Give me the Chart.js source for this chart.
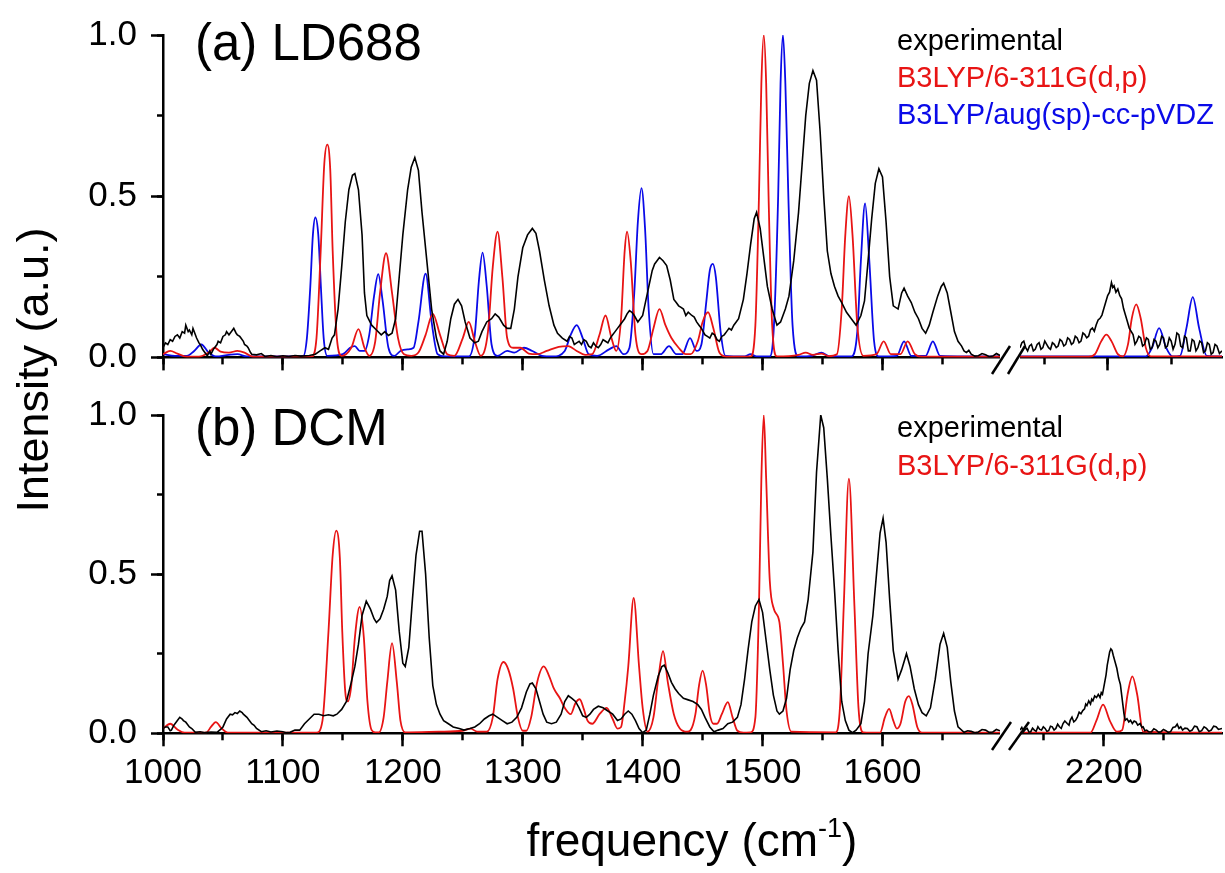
<!DOCTYPE html>
<html><head><meta charset="utf-8">
<script src="https://cdn.jsdelivr.net/npm/chart.js@4.4.1/dist/chart.umd.min.js"></script>
<style>
html,body{margin:0;padding:0;background:#fff;}
#wrap{position:relative;width:1225px;height:873px;overflow:hidden;background:#fff;}
canvas{position:absolute;}
#ov{position:absolute;left:0;top:0;pointer-events:none;}
#ov text{font-family:'Liberation Sans',Arial,Helvetica,sans-serif;}
</style></head><body>
<div id="wrap">
<canvas id="ta" width="1000" height="400" style="left:0px;top:0px"></canvas>
<canvas id="tb" width="205" height="400" style="left:1020px;top:0px"></canvas>
<canvas id="ba" width="1000" height="493" style="left:0px;top:380px"></canvas>
<canvas id="bb" width="205" height="493" style="left:1020px;top:380px"></canvas>
<svg id="ov" width="1225" height="873"></svg>
</div>
<script>
// ---------- DATA (frequency in cm^-1, normalized intensity) ----------
const seriesNamesA = ['experimental', 'B3LYP/6-311G(d,p)', 'B3LYP/aug(sp)-cc-pVDZ'];
const seriesNamesB = ['experimental', 'B3LYP/6-311G(d,p)'];
const panelTitles = ['(a) LD688', '(b) DCM'];
const yMajorTicks = [0, 0.5, 1.0];
const yTickLabels = ['0.0', '0.5', '1.0'];
const yMinorTicks = [0, 0.25, 0.5, 0.75, 1.0];
const xMajorTicksLow = [1000, 1100, 1200, 1300, 1400, 1500, 1600];
const xMinorTicksLow = [1000, 1050, 1100, 1150, 1200, 1250, 1300, 1350, 1400, 1450, 1500, 1550, 1600, 1650];
const xMajorTicksHigh = [2200];
const xMinorTicksHigh = [2150, 2200, 2250];
const xLowRange = [1000, 1698];
const xHighRangeA = [2131, 2290];
const xHighRangeB = [2130, 2299];

// (a) LD688 experimental, 1000-1700
const expA = [[1000,0.03],[1002,0.045],[1004,0.04],[1006,0.055],[1008,0.05],[1010,0.065],[1012,0.07],[1014,0.06],[1016,0.08],[1018,0.075],[1019,0.1],[1021,0.08],[1022,0.085],[1024,0.07],[1025,0.09],[1027,0.07],[1028,0.06],[1030,0.045],[1031,0.04],[1033,0.025],[1034,0.02],[1036,0.01],[1037,0.005],[1039,0.02],[1040,0.01],[1042,0.025],[1043,0.03],[1045,0.04],[1046,0.05],[1048,0.045],[1050,0.065],[1052,0.07],[1053,0.08],[1055,0.07],[1056,0.075],[1058,0.085],[1059,0.09],[1061,0.075],[1062,0.07],[1064,0.065],[1065,0.06],[1067,0.05],[1068,0.04],[1070,0.035],[1071,0.03],[1073,0.015],[1074,0.01],[1078,0.008],[1082,0.012],[1085,0.003],[1090,0.006],[1095,0.002],[1100,0.005],[1105,0.003],[1110,0.006],[1115,0.004],[1122,0.006],[1127,0.01],[1131,0.02],[1135,0.03],[1138,0.025],[1141,0.06],[1143,0.07],[1146,0.15],[1149,0.28],[1152,0.42],[1155,0.52],[1158,0.565],[1160,0.57],[1163,0.52],[1166,0.38],[1168,0.2],[1170,0.13],[1174,0.1],[1178,0.085],[1182,0.07],[1185,0.08],[1188,0.068],[1191,0.075],[1194,0.12],[1197,0.25],[1200,0.38],[1204,0.52],[1207,0.59],[1210,0.62],[1213,0.58],[1216,0.45],[1220,0.3],[1224,0.15],[1228,0.06],[1231,0.02],[1234,0.01],[1237,0.05],[1240,0.12],[1243,0.165],[1246,0.18],[1249,0.16],[1252,0.11],[1256,0.06],[1260,0.045],[1263,0.05],[1266,0.08],[1270,0.11],[1274,0.12],[1277,0.135],[1280,0.125],[1284,0.1],[1287,0.09],[1290,0.09],[1293,0.15],[1296,0.25],[1300,0.34],[1304,0.38],[1308,0.4],[1311,0.385],[1314,0.33],[1318,0.24],[1322,0.16],[1326,0.1],[1329,0.075],[1333,0.06],[1337,0.05],[1339,0.065],[1341,0.06],[1343,0.04],[1345,0.045],[1347,0.05],[1349,0.04],[1351,0.055],[1353,0.05],[1355,0.035],[1357,0.03],[1359,0.045],[1361,0.035],[1363,0.03],[1365,0.04],[1367,0.055],[1369,0.05],[1371,0.045],[1373,0.06],[1375,0.07],[1377,0.08],[1379,0.09],[1381,0.1],[1383,0.11],[1385,0.12],[1387,0.135],[1389,0.145],[1391,0.14],[1393,0.13],[1396,0.11],[1400,0.13],[1404,0.2],[1408,0.27],[1410,0.29],[1412,0.3],[1414,0.31],[1417,0.3],[1420,0.285],[1423,0.24],[1426,0.18],[1428,0.17],[1430,0.16],[1432,0.155],[1434,0.15],[1436,0.13],[1438,0.14],[1441,0.13],[1443,0.125],[1445,0.11],[1447,0.1],[1449,0.09],[1452,0.07],[1454,0.065],[1456,0.06],[1458,0.075],[1460,0.07],[1462,0.055],[1464,0.05],[1466,0.065],[1468,0.07],[1470,0.08],[1472,0.09],[1474,0.085],[1476,0.1],[1478,0.11],[1480,0.12],[1484,0.18],[1487,0.26],[1490,0.35],[1493,0.43],[1495,0.45],[1498,0.4],[1501,0.31],[1504,0.22],[1508,0.15],[1512,0.1],[1515,0.11],[1519,0.15],[1522,0.19],[1526,0.3],[1530,0.45],[1533,0.6],[1536,0.75],[1539,0.85],[1542,0.89],[1545,0.86],[1548,0.7],[1551,0.5],[1554,0.33],[1557,0.26],[1560,0.22],[1563,0.19],[1566,0.17],[1570,0.14],[1574,0.12],[1578,0.1],[1582,0.13],[1585,0.175],[1588,0.3],[1591,0.43],[1594,0.54],[1597,0.585],[1600,0.56],[1603,0.42],[1606,0.25],[1609,0.16],[1613,0.15],[1616,0.2],[1618,0.215],[1621,0.19],[1624,0.17],[1627,0.14],[1630,0.12],[1633,0.09],[1636,0.075],[1639,0.1],[1642,0.14],[1646,0.19],[1649,0.22],[1651,0.23],[1654,0.2],[1657,0.14],[1660,0.08],[1663,0.05],[1666,0.035],[1668,0.02],[1670,0.015],[1672,0.022],[1674,0.01],[1677,0.004],[1680,0.005],[1683,0.012],[1686,0.008],[1689,0.002],[1692,0.004],[1695,0.012],[1698,0.006]];
// (a) B3LYP/6-311G(d,p), 1000-1700
const b3A = [[1000,0.01],[1006,0.02],[1012,0.012],[1020,0.002],[1030,0.002],[1038,0.015],[1043,0.03],[1048,0.018],[1055,0.015],[1062,0.02],[1068,0.015],[1075,0.002],[1124,0.003],[1128,0.06],[1131.5,0.33],[1134.5,0.6],[1137,0.66],[1139.5,0.58],[1141.5,0.33],[1145,0.06],[1149,0.005],[1157,0.03],[1163,0.088],[1168,0.03],[1172,0.005],[1177,0.05],[1181,0.2],[1186,0.323],[1191,0.2],[1196,0.06],[1201,0.01],[1207,0.005],[1213,0.015],[1219,0.07],[1225,0.135],[1231,0.07],[1237,0.01],[1243,0.005],[1250,0.06],[1255,0.11],[1260,0.05],[1265,0.005],[1271,0.08],[1275,0.28],[1279,0.39],[1283,0.25],[1287,0.06],[1292,0.03],[1298,0.03],[1305,0.012],[1312,0.01],[1320,0.02],[1330,0.033],[1338,0.035],[1345,0.02],[1352,0.008],[1358,0.01],[1364,0.07],[1369,0.13],[1374,0.06],[1378,0.02],[1382,0.12],[1385,0.33],[1387,0.39],[1390,0.3],[1394,0.07],[1399,0.01],[1404,0.02],[1409,0.09],[1414,0.15],[1419,0.1],[1424,0.06],[1430,0.03],[1436,0.01],[1440,0.01],[1446,0.05],[1450,0.11],[1454.5,0.14],[1459,0.09],[1464,0.015],[1470,0.002],[1490,0.003],[1494,0.1],[1497,0.5],[1499,0.85],[1501,1.0],[1503,0.85],[1505,0.5],[1508,0.1],[1512,0.003],[1530,0.008],[1536,0.015],[1542,0.008],[1549,0.012],[1555,0.004],[1562,0.01],[1566,0.15],[1569,0.38],[1572,0.5],[1575,0.38],[1579,0.1],[1584,0.005],[1595,0.01],[1601,0.05],[1607,0.01],[1615,0.01],[1621,0.05],[1627,0.01],[1633,0.002],[1698,0.002]];
// (a) B3LYP/aug(sp)-cc-pVDZ, 1000-1700
const augA = [[1000,0.01],[1010,0.005],[1020,0.005],[1026,0.02],[1032,0.04],[1038,0.015],[1044,0.003],[1055,0.008],[1062,0.01],[1070,0.003],[1117,0.005],[1120,0.06],[1122.8,0.217],[1125,0.38],[1127,0.434],[1129.5,0.38],[1131.7,0.217],[1134,0.06],[1137,0.005],[1150,0.01],[1156,0.03],[1160,0.035],[1164,0.02],[1168,0.02],[1172,0.07],[1176,0.19],[1179.5,0.258],[1183,0.18],[1188,0.03],[1193,0.005],[1198,0.02],[1204,0.025],[1209,0.03],[1213,0.11],[1219,0.26],[1224,0.11],[1229,0.01],[1235,0.003],[1255,0.003],[1260,0.07],[1263.5,0.24],[1266.5,0.325],[1270,0.22],[1274,0.04],[1279,0.005],[1287,0.02],[1293,0.015],[1301,0.03],[1308,0.02],[1316,0.005],[1325,0.003],[1335,0.02],[1340,0.07],[1345,0.1],[1350,0.06],[1355,0.01],[1362,0.005],[1372,0.025],[1378,0.035],[1384,0.01],[1389,0.03],[1393,0.2],[1396,0.42],[1399,0.525],[1402,0.4],[1405,0.15],[1409,0.01],[1415,0.01],[1422,0.035],[1428,0.01],[1433,0.01],[1439.5,0.06],[1445,0.02],[1449,0.04],[1453,0.17],[1456,0.27],[1458.5,0.29],[1461,0.25],[1465,0.08],[1469,0.005],[1485,0.003],[1490,0.01],[1495,0.003],[1506,0.003],[1509.5,0.1],[1513,0.5],[1515,0.85],[1517,1.0],[1519,0.85],[1521.5,0.5],[1525,0.1],[1530,0.003],[1541,0.005],[1549,0.015],[1556,0.003],[1574,0.003],[1579,0.08],[1582,0.3],[1585.5,0.478],[1589,0.3],[1593,0.05],[1597,0.003],[1612,0.005],[1618,0.05],[1624,0.005],[1636,0.005],[1642,0.05],[1648,0.005],[1698,0.003]];
// (a) high-frequency window
const expAHi = [[2131,0.03],[2132.5,0.045],[2134,0.05],[2135.5,0.03],[2137,0.02],[2138.5,0.035],[2140,0.04],[2141.5,0.02],[2143,0.025],[2144.5,0.04],[2146,0.045],[2147.5,0.025],[2149,0.03],[2150.5,0.05],[2152,0.04],[2153.5,0.03],[2155,0.025],[2156.5,0.045],[2158,0.04],[2159.5,0.03],[2161,0.035],[2162.5,0.055],[2164,0.05],[2165.5,0.035],[2167,0.04],[2168.5,0.06],[2170,0.055],[2171.5,0.04],[2173,0.045],[2174.5,0.065],[2176,0.06],[2177.5,0.045],[2179,0.05],[2180.5,0.075],[2182,0.07],[2183.5,0.06],[2185,0.065],[2186.5,0.085],[2188,0.09],[2189.5,0.08],[2191,0.1],[2192.5,0.115],[2194,0.12],[2195.5,0.13],[2197,0.15],[2198.5,0.17],[2200,0.19],[2201.5,0.2],[2203,0.23],[2204,0.215],[2205,0.22],[2206.5,0.2],[2208,0.21],[2209.5,0.19],[2211,0.18],[2212.5,0.15],[2214,0.13],[2215.5,0.11],[2217,0.09],[2218.5,0.08],[2220,0.07],[2221.5,0.04],[2223,0.05],[2224.5,0.065],[2226,0.06],[2227.5,0.035],[2229,0.04],[2230.5,0.06],[2232,0.055],[2233.5,0.025],[2235,0.03],[2236.5,0.055],[2238,0.05],[2239.5,0.03],[2241,0.04],[2242.5,0.065],[2244,0.06],[2245.5,0.03],[2247,0.035],[2248.5,0.06],[2250,0.05],[2251.5,0.025],[2253,0.04],[2254.5,0.075],[2256,0.07],[2257.5,0.035],[2259,0.03],[2260.5,0.065],[2262,0.06],[2263.5,0.02],[2265,0.02],[2266.5,0.055],[2268,0.05],[2269.5,0.02],[2271,0.03],[2272.5,0.05],[2274,0.045],[2275.5,0.015],[2277,0.02],[2278.5,0.045],[2280,0.04],[2281.5,0.01],[2283,0.015],[2284.5,0.04],[2286,0.035],[2288,0.012],[2290,0.02]];
const b3AHi = [[2131,0.002],[2185,0.002],[2190,0.01],[2195,0.05],[2199,0.07],[2203,0.05],[2208,0.01],[2212,0.003],[2216,0.04],[2219,0.12],[2222.5,0.163],[2226,0.12],[2230,0.03],[2234,0.003],[2290,0.003]];
const augAHi = [[2131,0.003],[2230,0.003],[2235,0.03],[2240.5,0.09],[2246,0.03],[2251,0.003],[2257,0.005],[2262,0.09],[2267,0.185],[2272,0.09],[2278,0.005],[2290,0.003]];

// (b) DCM experimental, 1000-1700
const expB = [[1000,0.015],[1002,0.02],[1004,0.02],[1006,0.008],[1007,0.01],[1009,0.025],[1010,0.03],[1012,0.04],[1014,0.05],[1016,0.045],[1017,0.04],[1019,0.035],[1020,0.03],[1022,0.02],[1024,0.015],[1027,0.003],[1031,0.005],[1035,0.002],[1040,0.004],[1045,0.003],[1048,0.012],[1050,0.02],[1053,0.045],[1056,0.06],[1058,0.058],[1060,0.065],[1062,0.062],[1064,0.07],[1066,0.065],[1067,0.06],[1070,0.05],[1072,0.04],[1074,0.03],[1076,0.025],[1078,0.015],[1082,0.005],[1086,0.008],[1090,0.004],[1095,0.007],[1100,0.005],[1103,0.002],[1106,0.003],[1110,0.01],[1114,0.01],[1118,0.03],[1122,0.045],[1126,0.06],[1130,0.06],[1134,0.055],[1138,0.058],[1142,0.055],[1145,0.06],[1149,0.075],[1153,0.1],[1157,0.16],[1160,0.21],[1163,0.28],[1166,0.37],[1169.5,0.415],[1173,0.39],[1176,0.36],[1178,0.348],[1181,0.36],[1184,0.39],[1187,0.43],[1189,0.48],[1191,0.495],[1194,0.45],[1197,0.32],[1200,0.22],[1202,0.21],[1205,0.27],[1208,0.42],[1211,0.56],[1214,0.635],[1216,0.635],[1219,0.5],[1222,0.3],[1225,0.15],[1228,0.09],[1231,0.06],[1234,0.04],[1238,0.03],[1242,0.02],[1247,0.015],[1251,0.01],[1256,0.015],[1260,0.02],[1264,0.03],[1268,0.045],[1272,0.055],[1275,0.06],[1279,0.05],[1283,0.04],[1287,0.03],[1291,0.035],[1295,0.05],[1299,0.08],[1303,0.13],[1306,0.155],[1308,0.158],[1311,0.14],[1314,0.1],[1317,0.06],[1320,0.035],[1324,0.03],[1328,0.035],[1332,0.06],[1335,0.1],[1338,0.118],[1341,0.11],[1344,0.1],[1347,0.08],[1350,0.055],[1353,0.05],[1356,0.06],[1359,0.075],[1363,0.085],[1367,0.08],[1371,0.07],[1375,0.06],[1379,0.04],[1382,0.045],[1385,0.06],[1388,0.07],[1391,0.06],[1394,0.04],[1397,0.015],[1400,0.002],[1403,0.01],[1406,0.06],[1409,0.12],[1413,0.18],[1416,0.21],[1418,0.214],[1421,0.19],[1424,0.16],[1427,0.14],[1430,0.125],[1434,0.11],[1438,0.105],[1442,0.1],[1446,0.09],[1449,0.075],[1452,0.05],[1456,0.02],[1459.5,0.005],[1463,0.01],[1467,0.015],[1471,0.03],[1475,0.035],[1479,0.05],[1482,0.09],[1485,0.17],[1488,0.265],[1491,0.35],[1494,0.4],[1497,0.42],[1500,0.38],[1503,0.29],[1506,0.2],[1509,0.12],[1512,0.07],[1514,0.06],[1517,0.07],[1520,0.11],[1523,0.2],[1526,0.26],[1529,0.3],[1532,0.33],[1535,0.35],[1538,0.42],[1542,0.57],[1545,0.82],[1548.5,1.0],[1551,0.96],[1554,0.8],[1557,0.62],[1560,0.45],[1563,0.26],[1566,0.1],[1569,0.04],[1572,0.01],[1575,0.002],[1578,0.01],[1582,0.03],[1585,0.1],[1588,0.25],[1592,0.37],[1595,0.5],[1598,0.63],[1600.5,0.676],[1603,0.6],[1606,0.42],[1609,0.26],[1613,0.17],[1616,0.2],[1620,0.25],[1623,0.21],[1626.5,0.14],[1630,0.09],[1633,0.065],[1636.5,0.055],[1640,0.08],[1644,0.17],[1648,0.28],[1651,0.314],[1654,0.27],[1657,0.16],[1660,0.07],[1663,0.02],[1668,0.003],[1671,0.008],[1674,0.006],[1677,0.002],[1680,0.004],[1683,0.012],[1686,0.01],[1689,0.003],[1692,0.004],[1695,0.012],[1698,0.008]];
// (b) B3LYP/6-311G(d,p), 1000-1700
const b3B = [[1000,0.015],[1006,0.03],[1012,0.012],[1018,0.002],[1036,0.002],[1040,0.02],[1044,0.035],[1049,0.015],[1054,0.002],[1128,0.002],[1133,0.04],[1138,0.32],[1141.5,0.56],[1144.5,0.637],[1147.5,0.55],[1149.5,0.32],[1152,0.13],[1154,0.1],[1157,0.15],[1160,0.3],[1164,0.397],[1167.5,0.3],[1170.5,0.1],[1174,0.01],[1177,0.003],[1180,0.003],[1184,0.05],[1187,0.16],[1191,0.283],[1195,0.16],[1198,0.04],[1202,0.003],[1230,0.005],[1250,0.008],[1256.5,0.015],[1262,0.005],[1270,0.005],[1275,0.05],[1279,0.17],[1284,0.224],[1288,0.2],[1292,0.14],[1296,0.05],[1300,0.008],[1303,0.008],[1307,0.05],[1312,0.16],[1317.5,0.21],[1322,0.18],[1326,0.14],[1331,0.11],[1335,0.08],[1340,0.06],[1344,0.095],[1347.5,0.107],[1351,0.075],[1354,0.04],[1358,0.03],[1364,0.06],[1370,0.08],[1375,0.045],[1379,0.015],[1382,0.02],[1385,0.1],[1388,0.21],[1392.5,0.425],[1397,0.21],[1400,0.08],[1404,0.005],[1409,0.05],[1413,0.17],[1417,0.258],[1421,0.16],[1426,0.06],[1431,0.015],[1437,0.005],[1440,0.01],[1444,0.06],[1447,0.15],[1450,0.197],[1453,0.15],[1456,0.06],[1459,0.03],[1462,0.03],[1466,0.06],[1471,0.098],[1475,0.05],[1479,0.008],[1484,0.002],[1490,0.003],[1494,0.05],[1497,0.4],[1499,0.8],[1501,1.0],[1503,0.8],[1506,0.48],[1509.5,0.39],[1514,0.35],[1517,0.22],[1520,0.07],[1524,0.005],[1561,0.003],[1564.5,0.08],[1567.7,0.4],[1572,0.8],[1576.6,0.4],[1580,0.08],[1584,0.003],[1598,0.002],[1602,0.05],[1605.5,0.077],[1609,0.04],[1612,0.015],[1615,0.03],[1619,0.1],[1622,0.117],[1625,0.09],[1629,0.02],[1633,0.002],[1698,0.002]];
// (b) high-frequency window
const expBHi = [[2130,0.01],[2131.5,0.018],[2133,0.005],[2134.5,0.012],[2136,0.015],[2137.5,0.004],[2139,0.005],[2140.5,0.016],[2142,0.01],[2143.5,0.006],[2145,0.02],[2146.5,0.012],[2148,0.01],[2149.5,0.02],[2151,0.015],[2152.5,0.006],[2154,0.008],[2155.5,0.022],[2157,0.02],[2158.5,0.01],[2160,0.015],[2161.5,0.028],[2163,0.02],[2164.5,0.015],[2166,0.03],[2167.5,0.038],[2169.5,0.03],[2171,0.025],[2172,0.04],[2173.5,0.05],[2175,0.035],[2176.5,0.04],[2178,0.05],[2179.5,0.065],[2181,0.06],[2182.5,0.07],[2184,0.075],[2185,0.09],[2186,0.085],[2187.5,0.1],[2189,0.09],[2190,0.105],[2191,0.1],[2192.5,0.115],[2194,0.11],[2195.5,0.12],[2197,0.11],[2198,0.125],[2199,0.12],[2200.5,0.15],[2202,0.18],[2203,0.21],[2204,0.23],[2205,0.25],[2206,0.26],[2207,0.255],[2208,0.24],[2209.5,0.22],[2211,0.2],[2212.5,0.17],[2214,0.15],[2215,0.12],[2216,0.09],[2217,0.06],[2218,0.04],[2219.5,0.045],[2221,0.035],[2222.5,0.04],[2224,0.03],[2225.5,0.038],[2227,0.035],[2228.5,0.025],[2230.5,0.03],[2232,0.018],[2233,0.02],[2234.5,0.008],[2236,0.01],[2238,0.004],[2240,0.005],[2242,0.014],[2244,0.01],[2246,0.003],[2248,0.005],[2250,0.012],[2252,0.008],[2254,0.003],[2256,0.005],[2258,0.018],[2260,0.02],[2261.5,0.028],[2263,0.015],[2264.5,0.02],[2266,0.01],[2268,0.016],[2270,0.015],[2272,0.006],[2274,0.01],[2276,0.022],[2278,0.02],[2280,0.005],[2282,0.008],[2284,0.02],[2286,0.015],[2288,0.006],[2290,0.01],[2292,0.022],[2294,0.02],[2296,0.012],[2299,0.015]];
const b3BHi = [[2130,0.002],[2189,0.002],[2194,0.04],[2199.5,0.088],[2205,0.04],[2211,0.005],[2215.5,0.01],[2220,0.12],[2224,0.175],[2228,0.12],[2233,0.005],[2299,0.002]];

// ---------- STYLE ----------
const FONT = "'Liberation Sans', Arial, Helvetica, sans-serif";
const BLACK = '#000000', RED = '#e81414', BLUE = '#0a0ae8';
Chart.defaults.font.family = FONT;
Chart.defaults.color = '#000';

const toXY = arr => arr.map(p => ({x: p[0], y: p[1]}));
const toTicks = arr => arr.map(v => ({value: v}));
function ds(label, arr, color, smooth, w) {
  return {label, data: toXY(arr), borderColor: color, backgroundColor: color,
    borderWidth: w, pointRadius: 0, fill: false, tension: 0,
    cubicInterpolationMode: smooth ? 'monotone' : 'default'};
}

function makePanel(id, o) {
  const scales = {
    x: {type: 'linear', position: 'bottom', min: o.xr[0], max: o.xr[1], weight: 2,
      afterBuildTicks: s => { s.ticks = toTicks(o.xMajor); },
      ticks: {display: o.xLabels, autoSkip: false, maxRotation: 0, minRotation: 0, padding: 6,
        color: '#000', font: {size: 35}, callback: v => String(v)},
      grid: {display: true, drawOnChartArea: false, drawTicks: true, tickLength: 13, tickWidth: 2.5, tickColor: '#000'},
      border: {display: true, color: '#000', width: 2.5},
      afterFit: s => { s.height = o.H - o.bottom; }},
    xMinor: {type: 'linear', position: 'bottom', min: o.xr[0], max: o.xr[1], weight: 1,
      afterBuildTicks: s => { s.ticks = toTicks(o.xMinor); },
      ticks: {display: false},
      grid: {display: true, drawOnChartArea: false, drawTicks: true, tickLength: 7, tickWidth: 2.5, tickColor: '#000'},
      border: {display: false},
      afterFit: s => { s.height = 0; }},
    y: {type: 'linear', position: 'left', min: 0, max: 1, display: o.yOn, weight: 2,
      afterBuildTicks: s => { s.ticks = toTicks(yMajorTicks); },
      ticks: {padding: 14, color: '#000', font: {size: 35},
        callback: (v) => { const i = yMajorTicks.indexOf(v); return i >= 0 ? yTickLabels[i] : ''; }},
      grid: {display: true, drawOnChartArea: false, drawTicks: true, tickLength: 12, tickWidth: 2.5, tickColor: '#000'},
      border: {display: true, color: '#000', width: 2.5},
      afterFit: s => { s.width = o.yOn ? 163 : 0; }},
    yMinor: {type: 'linear', position: 'left', min: 0, max: 1, display: o.yOn, weight: 1,
      afterBuildTicks: s => { s.ticks = toTicks(yMinorTicks); },
      ticks: {display: false},
      grid: {display: true, drawOnChartArea: false, drawTicks: true, tickLength: 6, tickWidth: 2.5, tickColor: '#000'},
      border: {display: false},
      afterFit: s => { s.width = 0; }}
  };
  return new Chart(document.getElementById(id), {
    type: 'line',
    data: {datasets: o.datasets},
    options: {
      responsive: false, animation: false, events: [],
      layout: {padding: {top: o.top, left: 0, right: o.right, bottom: 0}},
      plugins: {legend: {display: false}, tooltip: {enabled: false}, title: {display: false}},
      scales
    }
  });
}

const LW_EXP = 1.6, LW_CALC = 1.8;
makePanel('ta', {xr: xLowRange, xMajor: xMajorTicksLow, xMinor: xMinorTicksLow, xLabels: false, yOn: true, top: 31.7, bottom: 357.4, H: 400, right: 0,
  datasets: [ds(seriesNamesA[0], expA, BLACK, false, LW_EXP), ds(seriesNamesA[1], b3A, RED, true, LW_CALC), ds(seriesNamesA[2], augA, BLUE, true, LW_CALC)]});
makePanel('tb', {xr: xHighRangeA, xMajor: xMajorTicksHigh, xMinor: xMinorTicksHigh, xLabels: false, yOn: false, top: 31.7, bottom: 357.4, H: 400, right: 3,
  datasets: [ds(seriesNamesA[0], expAHi, BLACK, false, LW_EXP), ds(seriesNamesA[1], b3AHi, RED, true, LW_CALC), ds(seriesNamesA[2], augAHi, BLUE, true, LW_CALC)]});
makePanel('ba', {xr: xLowRange, xMajor: xMajorTicksLow, xMinor: xMinorTicksLow, xLabels: true, yOn: true, top: 28.3, bottom: 353.3, H: 493, right: 0,
  datasets: [ds(seriesNamesB[0], expB, BLACK, false, LW_EXP), ds(seriesNamesB[1], b3B, RED, true, LW_CALC)]});
makePanel('bb', {xr: xHighRangeB, xMajor: xMajorTicksHigh, xMinor: xMinorTicksHigh, xLabels: true, yOn: false, top: 28.3, bottom: 353.3, H: 493, right: 3,
  datasets: [ds(seriesNamesB[0], expBHi, BLACK, false, LW_EXP), ds(seriesNamesB[1], b3BHi, RED, true, LW_CALC)]});

// ---------- TEXT OVERLAY (titles, legends, axis titles, break marks) ----------
const NS = 'http://www.w3.org/2000/svg';
const ov = document.getElementById('ov');
function txt(str, x, y, size, color, extra) {
  const t = document.createElementNS(NS, 'text');
  t.setAttribute('x', x); t.setAttribute('y', y);
  t.setAttribute('font-size', size); t.setAttribute('fill', color);
  if (extra) for (const k in extra) t.setAttribute(k, extra[k]);
  t.textContent = str; ov.appendChild(t); return t;
}
function line(x1, y1, x2, y2) {
  const l = document.createElementNS(NS, 'line');
  l.setAttribute('x1', x1); l.setAttribute('y1', y1); l.setAttribute('x2', x2); l.setAttribute('y2', y2);
  l.setAttribute('stroke', '#000'); l.setAttribute('stroke-width', 2.5);
  ov.appendChild(l);
}
txt(panelTitles[0], 195, 60, 51, '#000');
txt(panelTitles[1], 195, 445, 51, '#000');
const colA = [BLACK, RED, BLUE];
seriesNamesA.forEach((n, i) => txt(n, 897, 50 + i * 37, 29, colA[i]));
seriesNamesB.forEach((n, i) => txt(n, 897, 437 + i * 38, 29, colA[i]));
// y-axis title
const yt = document.createElementNS(NS, 'text');
yt.setAttribute('transform', 'translate(48,370) rotate(-90)');
yt.setAttribute('text-anchor', 'middle'); yt.setAttribute('font-size', 45); yt.setAttribute('fill', '#000');
yt.textContent = 'Intensity (a.u.)'; ov.appendChild(yt);
// x-axis title with superscript
const xt = document.createElementNS(NS, 'text');
xt.setAttribute('x', 692); xt.setAttribute('y', 856); xt.setAttribute('text-anchor', 'middle');
xt.setAttribute('font-size', 46); xt.setAttribute('fill', '#000');
xt.appendChild(document.createTextNode('frequency (cm'));
const sup = document.createElementNS(NS, 'tspan'); sup.setAttribute('dy', -19); sup.setAttribute('font-size', 27); sup.textContent = '-1';
xt.appendChild(sup);
const cl = document.createElementNS(NS, 'tspan'); cl.setAttribute('dy', 19); cl.textContent = ')';
xt.appendChild(cl);
ov.appendChild(xt);
// axis break marks
line(992, 374, 1010, 346); line(1008, 374, 1025, 346);
line(992, 750, 1011, 722); line(1009, 750, 1029, 722);
</script>
</body></html>
